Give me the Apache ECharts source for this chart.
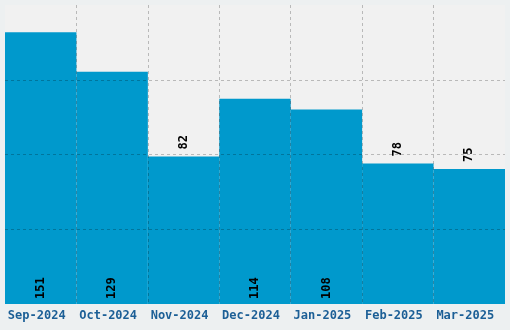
<!DOCTYPE html>
<html><head><meta charset="utf-8">
<script src="https://cdn.jsdelivr.net/npm/echarts@6/dist/echarts.min.js"></script>
<style>html,body{margin:0;padding:0;background:#edf0f1}#c{width:510px;height:330px}</style>
</head><body><div id="c"></div>
<script>
var categories = ['Sep-2024','Oct-2024','Nov-2024','Dec-2024','Jan-2025','Feb-2025','Mar-2025'];
var values = [151,129,82,114,108,78,75];
var labelInside = [true,true,false,true,true,false,false];

var FONT = '"DejaVu Sans Mono", monospace';
var yMax = Math.max.apply(null, values) * 1.1;
var chart = echarts.init(document.getElementById('c'), null, {renderer:'canvas'});
chart.setOption({
  backgroundColor: '#edf0f1',
  animation: false,
  grid: {left:5, right:5, top:5, bottom:26, show:true, backgroundColor:'#f1f1f1', borderWidth:0},
  xAxis: {
    type:'category', data: categories, z: 5,
    axisLine:{show:false}, axisTick:{show:false},
    axisLabel:{color:'#1c5f96', fontFamily:FONT, fontWeight:'bold', fontSize:12, margin:6, interval:0, padding:[0,8,0,0]},
    splitLine:{show:true, showMinLine:false, showMaxLine:false, lineStyle:{color:'rgba(0,0,0,0.23)', type:[3,3], width:1}}
  },
  yAxis: {
    type:'value', min:0, max:yMax, interval:yMax/4, z:5,
    axisLine:{show:false}, axisTick:{show:false}, axisLabel:{show:false},
    splitLine:{show:true, showMinLine:false, showMaxLine:false, lineStyle:{color:'rgba(0,0,0,0.23)', type:[3,3], width:1}}
  },
  series: [{
    type:'bar', barCategoryGap:'0%', z:2,
    itemStyle:{color:'#0099cc'},
    data: values.map(function(v,i){
      return {value:v, label: labelInside[i]
        ? {show:true, position:'insideBottom', distance:5, rotate:90, align:'left', verticalAlign:'middle'}
        : {show:true, position:'top', distance:7, rotate:90, align:'left', verticalAlign:'middle'}};
    }),
    label:{color:'#000', fontFamily:FONT, fontWeight:'bold', fontSize:12}
  }]
});
</script></body></html>
